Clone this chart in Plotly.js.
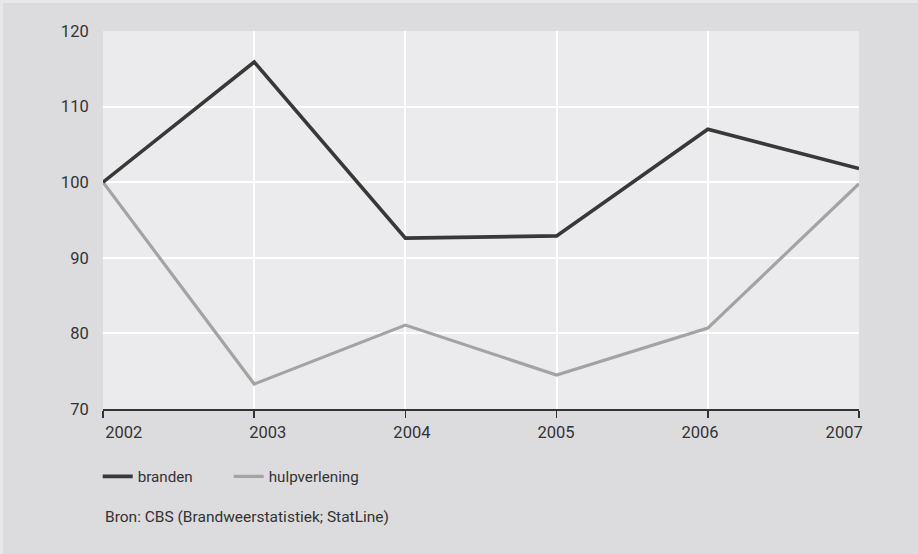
<!DOCTYPE html>
<html>
<head>
<meta charset="utf-8">
<script src="https://cdn.plot.ly/plotly-3.0.1.min.js"></script>
<style>
  html, body { margin: 0; padding: 0; background: #e8e8e9; width: 918px; height: 554px; overflow: hidden; }
  #chart { position: absolute; left: 3px; top: 3px; width: 915px; height: 551px; }
</style>
</head>
<body>
<div id="chart"></div>
<script>
// Data (index 2002 = 100)
const years = [2002, 2003, 2004, 2005, 2006, 2007];
const branden = [100, 115.9, 92.6, 92.9, 107.0, 101.8];
const hulpverlening = [100, 73.3, 81.1, 74.5, 80.7, 99.8];
const seriesNames = ['branden', 'hulpverlening'];
const yTicks = [70, 80, 90, 100, 110, 120];
const xTickLabels = ['2002', '2003', '2004', '2005', '2006', '2007'];
const sourceText = 'Bron: CBS (Brandweerstatistiek; StatLine)';

const FONT = 'Roboto, "Liberation Sans", Arial, sans-serif';
const TXT = '#333333';

const data = [
  {
    x: years, y: hulpverlening, name: seriesNames[1], type: 'scatter', mode: 'lines',
    line: { color: '#a3a3a3', width: 3.2 }, legendrank: 2, hoverinfo: 'skip'
  },
  {
    x: years, y: branden, name: seriesNames[0], type: 'scatter', mode: 'lines',
    line: { color: '#383838', width: 3.6 }, legendrank: 1, hoverinfo: 'skip'
  },
  {
    // carrier for the offset tick-label axis (no visible marks)
    x: years, y: years.map(() => null), xaxis: 'x2', yaxis: 'y', type: 'scatter', mode: 'lines',
    showlegend: false, hoverinfo: 'skip'
  }
];

const layout = {
  width: 915, height: 551,
  margin: { l: 99.7, r: 58.7, t: 28, b: 145, pad: 0 },
  paper_bgcolor: '#dcdcde',
  plot_bgcolor: '#ebebed',
  font: { family: FONT, color: TXT, size: 16 },
  showlegend: true,
  legend: {
    orientation: 'h', xref: 'container', yref: 'container',
    x: 0.1035, xanchor: 'left', y: 1 - 457 / 551, yanchor: 'top',
    bgcolor: 'rgba(0,0,0,0)', borderwidth: 0,
    font: { family: FONT, size: 15.2, color: TXT },
    entrywidthmode: 'pixels', entrywidth: 86,
    traceorder: 'normal'
  },
  xaxis: {
    range: [2002, 2007], tickvals: years, showticklabels: false,
    showgrid: true, gridcolor: '#ffffff', gridwidth: 2,
    zeroline: false, showline: true, linecolor: '#333333', linewidth: 1.5,
    ticks: 'outside', ticklen: 7, tickwidth: 1.5, tickcolor: '#333333',
    fixedrange: true
  },
  xaxis2: {
    overlaying: 'x', anchor: 'y', side: 'bottom',
    range: [2001.856, 2007.103], tickvals: years, ticktext: xTickLabels,
    showgrid: false, zeroline: false, showline: false,
    ticks: 'outside', ticklen: 8, tickcolor: 'rgba(0,0,0,0)',
    tickfont: { family: FONT, size: 16.5, color: TXT },
    fixedrange: true
  },
  yaxis: {
    range: [70, 120], tickvals: yTicks,
    showgrid: true, gridcolor: '#ffffff', gridwidth: 2,
    zeroline: false, showline: false,
    ticks: 'outside', ticklen: 10, tickcolor: 'rgba(0,0,0,0)',
    tickfont: { family: FONT, size: 16.5, color: TXT },
    fixedrange: true
  },
  annotations: [
    {
      text: sourceText, xref: 'paper', yref: 'paper',
      x: 0, xanchor: 'left', y: -0.2857, yanchor: 'middle',
      showarrow: false, font: { family: FONT, size: 15.5, color: TXT }
    }
  ]
};

Plotly.newPlot('chart', data, layout, { staticPlot: true, displayModeBar: false });
</script>
</body>
</html>
